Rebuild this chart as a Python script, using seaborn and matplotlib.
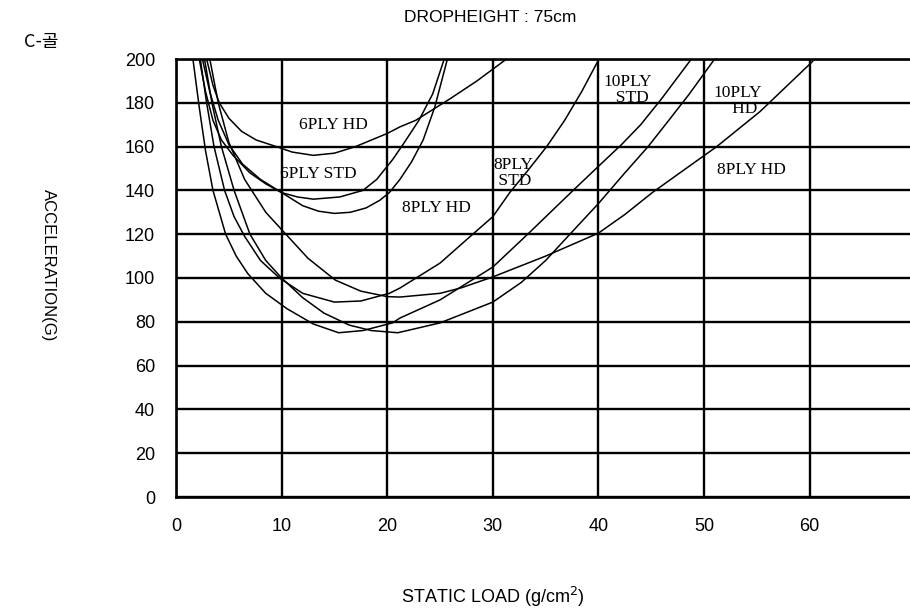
import pandas as pd
import numpy as np
import matplotlib
matplotlib.use("Agg")
import matplotlib.pyplot as plt
import seaborn as sns

# curves (static load g/cm2 -> acceleration G)
hd6_x = [2.9, 3.5, 4.1, 5.0, 6.2, 7.6, 9.5, 11.0, 13.0, 15.0, 17.0, 20.0, 21.2, 22.7, 26.0, 28.5, 31.3]
hd6_y = [200, 188, 180, 173, 167, 163, 160, 157.5, 156, 157, 160, 166, 169, 172, 182, 190, 200]

std6_x = [2.2, 2.8, 3.5, 4.3, 5.4, 7.0, 8.5, 10.0, 11.5, 13.0, 15.5, 17.7, 19.0, 20.5, 21.5, 23.0, 24.3, 25.4]
std6_y = [200, 185, 172, 163, 156, 148, 143, 139, 137, 136, 137, 140, 145, 154, 161, 172, 184, 200]

hd8a_x = [2.5, 3.2, 4.0, 5.0, 6.3, 8.0, 10.0, 12.0, 13.5, 15.0, 16.5, 18.0, 19.3, 20.2, 21.2, 22.3, 23.4, 24.5, 25.7]
hd8a_y = [200, 185, 172, 161, 152, 145, 139, 133, 130.5, 129.5, 130, 132, 135.5, 139, 145, 153, 163, 178, 200]

std8_x = [2.3, 2.9, 3.6, 4.6, 5.5, 6.5, 8.0, 9.8, 12.0, 15.0, 17.5, 20.2, 21.2, 25.0, 28.1, 30.0, 31.6, 33.3, 35.1, 36.8, 38.4, 40.0]
std8_y = [200, 180, 160, 140, 128, 119, 108, 100, 93, 89, 89.5, 93, 95.4, 106.8, 120, 128, 139, 149, 160, 172, 185, 199.5]

hd8b_x = [3.2, 4.0, 5.0, 6.5, 8.5, 10.4, 12.5, 15.1, 17.5, 20.0, 21.2, 25.0, 27.0, 30.0, 35.0, 40.0, 42.5, 45.1, 48.0, 51.2, 55.3, 60.3]
hd8b_y = [200, 180, 162, 145, 130, 120, 109, 99, 94, 91.5, 91.3, 93, 95.5, 100.5, 110, 120.5, 129, 139, 149, 160, 176, 199]

std10_x = [1.6, 2.2, 2.8, 3.5, 4.7, 5.7, 6.8, 8.5, 10.5, 13.0, 15.4, 17.7, 20.5, 21.2, 25.0, 30.0, 33.3, 37.6, 40.0, 42.2, 44.0, 46.0, 48.8]
std10_y = [200, 178, 158, 140, 120, 110, 102, 93, 86, 79, 75, 76, 79.5, 81.7, 90, 105, 120, 140, 151, 161, 170, 182, 200]

hd10_x = [2.7, 3.4, 4.3, 5.5, 7.0, 8.5, 10.0, 12.0, 14.0, 16.4, 18.5, 21.0, 25.0, 30.0, 32.7, 35.0, 37.3, 40.0, 42.5, 44.7, 46.5, 48.6, 51.0]
hd10_y = [200, 180, 160, 140, 120, 108, 100, 91, 84, 78.5, 76, 75, 79.5, 89, 98, 108, 120, 134, 148, 160, 171, 184, 200]

curves = {
    "6PLY HD": (hd6_x, hd6_y),
    "6PLY STD": (std6_x, std6_y),
    "8PLY HD a": (hd8a_x, hd8a_y),
    "8PLY STD": (std8_x, std8_y),
    "8PLY HD b": (hd8b_x, hd8b_y),
    "10PLY STD": (std10_x, std10_y),
    "10PLY HD": (hd10_x, hd10_y),
}

# labels written on the chart
label_text = ["6PLY HD", "6PLY STD", "8PLY HD", "8PLY\n STD", "10PLY\n  STD", "10PLY\n   HD", "8PLY HD"]
label_x = [14.9, 13.5, 24.7, 31.9, 42.8, 53.2, 54.5]
label_y = [170, 147.5, 132, 148, 186, 181, 149.3]

x_ticks = [0, 10, 20, 30, 40, 50, 60]
y_ticks = [0, 20, 40, 60, 80, 100, 120, 140, 160, 180, 200]

rows = []
for name, (xs, ys) in curves.items():
    for x, y in zip(xs, ys):
        rows.append({"curve": name, "load": x, "acc": y})
df = pd.DataFrame(rows)

sns.set_style("white")
plt.rcParams["font.family"] = ["Liberation Sans", "DejaVu Sans"]
plt.rcParams["text.color"] = "black"
plt.rcParams["xtick.color"] = "black"
plt.rcParams["ytick.color"] = "black"

fig = plt.figure(figsize=(9.1, 6.12), dpi=100)
ax = fig.add_axes([176 / 910, 1 - 497 / 612, 1 - 176 / 910, (497 - 59) / 612])

sns.lineplot(data=df, x="load", y="acc", units="curve", estimator=None,
             sort=False, color="black", linewidth=1.1, ax=ax, legend=False)

ax.set_xlim(0, 69.5)
ax.set_ylim(0, 200)
ax.set_xticks(x_ticks)
ax.set_yticks(y_ticks)
ax.grid(True, color="black", linewidth=1.7)
ax.set_axisbelow(True)
for side in ["left", "bottom", "top"]:
    ax.spines[side].set_color("black")
    ax.spines[side].set_linewidth(1.9)
ax.spines["right"].set_visible(False)
ax.tick_params(length=0, labelsize=13, pad=15)
ax.set_xlabel("")
ax.set_ylabel("")

for t, x, y in zip(label_text, label_x, label_y):
    ax.text(x, y, t, family="Liberation Serif", fontsize=12.5,
            ha="center", va="center", linespacing=1.0)

fig.text(490 / 910, 1 - 17 / 612, "DROPHEIGHT : 75cm", ha="center", va="center", fontsize=12.5)
fig.text(24 / 910, 1 - 42 / 612, "C-골", ha="left", va="center", fontsize=13,
         family=["Noto Sans CJK KR", "DejaVu Sans"])
fig.text(48 / 910, 1 - 265 / 612, "ACCELERATION(G)", rotation=270, ha="center", va="center", fontsize=12)
fig.text(493 / 910, 1 - 597 / 612, "STATIC LOAD (g/cm$^2$)", ha="center", va="center", fontsize=13)

fig.savefig("out.png", dpi=100)
